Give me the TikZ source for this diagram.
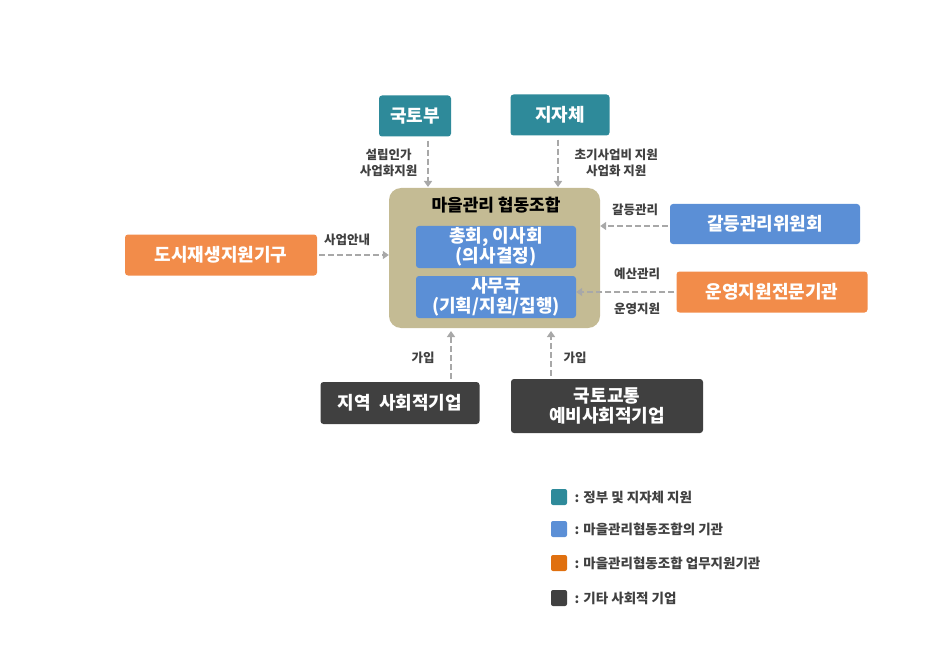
\documentclass[tikz,border=0pt]{standalone}
\usepackage{fontspec}
\setmainfont{Noto Sans CJK KR}
\usetikzlibrary{arrows.meta}
\definecolor{tealc}{HTML}{2E8A9A}
\definecolor{bluec}{HTML}{5B8FD6}
\definecolor{orangec}{HTML}{F28C4A}
\definecolor{orangel}{HTML}{E0700F}
\definecolor{darkc}{HTML}{404040}
\definecolor{khakic}{HTML}{C4BB94}
\definecolor{arrowc}{HTML}{A8A8A8}
\tikzset{
  box/.style={rounded corners=3pt, text=white, align=center, inner sep=0pt,
    font=\fontsize{18}{20}\selectfont\bfseries},
  link/.style={draw=arrowc, line width=2.5pt, dash pattern=on 6pt off 3pt,
    -{Triangle[length=6pt,width=8pt]}},
  lbl/.style={font=\fontsize{12.5}{16}\selectfont\bfseries, align=center, text=darkc},
  legend/.style={font=\fontsize{13.5}{16}\selectfont\bfseries, anchor=west, text=darkc}
}
\begin{document}
\begin{tikzpicture}[x=1pt,y=-1pt]
    \useasboundingbox (0,0) rectangle (941,652);
    % outside bodies
    \node[box, fill=tealc, minimum width=72pt, minimum height=41pt] (mol) at (415,116) {국토부};
    \node[box, fill=tealc, minimum width=99pt, minimum height=41pt] (local) at (560,115) {지자체};
    \node[box, fill=orangec, minimum width=192pt, minimum height=41pt] (urban) at (221,255) {도시재생지원기구};
    \node[box, fill=bluec, minimum width=190pt, minimum height=40pt] (conflict) at (765,224) {갈등관리위원회};
    \node[box, fill=orangec, minimum width=191pt, minimum height=41pt] (expert) at (772,292) {운영지원전문기관};
    \node[box, fill=darkc, minimum width=159pt, minimum height=42pt] (social) at (400,403) {지역\ \ 사회적기업};
    \node[box, fill=darkc, minimum width=192pt, minimum height=54pt] (presocial) at (607,406) {국토교통\\예비사회적기업};
    % the cooperative
    \node[rounded corners=12pt, fill=khakic, minimum width=211pt, minimum height=140pt] (coop) at (494.5,258) {};
    \node[font=\fontsize{17}{19}\selectfont\bfseries] (title) at (496,205) {마을관리 협동조합};
    \node[box, fill=bluec, minimum width=160pt, minimum height=42pt] (board) at (496,247) {총회, 이사회\\(의사결정)};
    \node[box, fill=bluec, minimum width=160pt, minimum height=42pt] (office) at (496,297) {사무국\\(기획/지원/집행)};
    % links
    \coordinate (molend) at (428,187);
    \coordinate (localend) at (558,187);
    \coordinate (socend) at (451,331);
    \coordinate (presocend) at (551,331);
    \draw[link] (mol.south -| molend) ++(0,4) -- (molend);
    \draw[link] (local.south -| localend) ++(0,4) -- (localend);
    \draw[link] (urban.east) ++(2,0) -- (coop.west |- urban.east);
    \draw[link] (conflict.west |- 0,226) ++(-2,0) -- (coop.east |- 0,226);
    \draw[link] (expert.west) ++(-2,0) -- (office.east |- expert.west);
    \draw[link] (social.north -| socend) ++(0,-3) -- (socend);
    \draw[link] (presocial.north -| presocend) ++(0,-3) -- (presocend);
    % link labels
    \node[lbl, anchor=east] (l1) at (421,163) {설립인가\\사업화지원};
    \node[lbl, anchor=west] (l2) at (571,163) {초기사업비 지원\\사업화 지원};
    \node[lbl] (l3) at (347,240) {사업안내};
    \node[lbl] (l4) at (635,210) {갈등관리};
    \node[lbl] (l5) at (637,274) {예산관리};
    \node[lbl] (l6) at (637,309) {운영지원};
    \node[lbl] (l7) at (423,358) {가입};
    \node[lbl] (l8) at (575,358) {가입};
    % legend
    \foreach \c/\t [count=\i] in {tealc/{: 정부 및 지자체 지원}, bluec/{: 마을관리협동조합의 기관},
        orangel/{: 마을관리협동조합 업무지원기관}, darkc/{: 기타 사회적 기업}} {
      \pgfmathsetmacro{\yy}{{0,497,529,563,598}[\i]}
      \fill[\c, rounded corners=2pt] (551,\yy-8) rectangle (567,\yy+8);
      \node[legend] (leg\i) at (571,\yy) {\t};
    }
\end{tikzpicture}
\end{document}
